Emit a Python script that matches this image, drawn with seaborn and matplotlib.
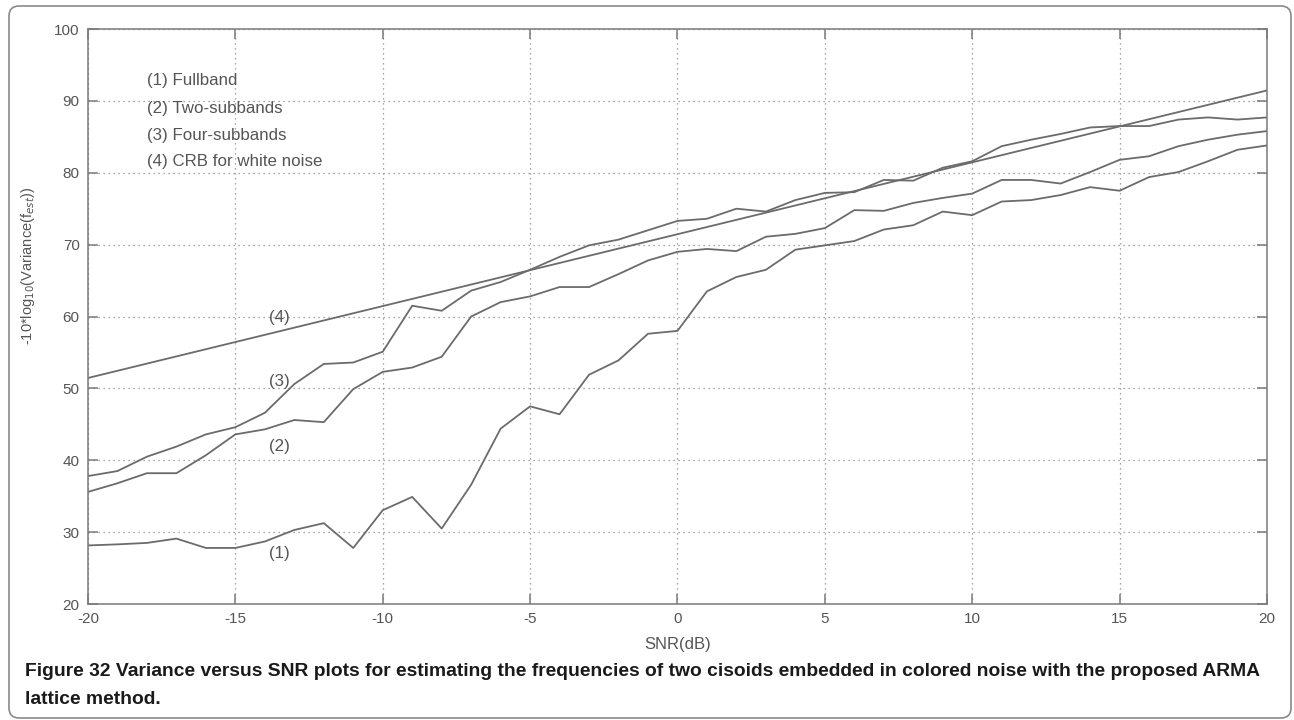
import numpy as np
import pandas as pd
import matplotlib
matplotlib.use("Agg")
import matplotlib.pyplot as plt
import seaborn as sns
from matplotlib.patches import FancyBboxPatch
from matplotlib.transforms import IdentityTransform

# SNR grid (dB)
snr = list(range(-20, 21))

# -10*log10(variance) for each estimator
fullband = [28.15, 28.3, 28.5, 29.1, 27.8, 27.8, 28.7, 30.3, 31.25, 27.8,
            33.05, 34.9, 30.5, 36.6, 44.4, 47.5, 46.4, 51.9, 53.9, 57.6,
            58.0, 63.5, 65.5, 66.5, 69.3, 69.9, 70.5, 72.1, 72.7, 74.6,
            74.1, 76.0, 76.2, 76.9, 78.0, 77.5, 79.4, 80.1, 81.6, 83.2, 83.8]
two_subbands = [35.6, 36.8, 38.2, 38.2, 40.7, 43.6, 44.3, 45.6, 45.3, 49.9,
                52.3, 52.9, 54.4, 60.0, 62.0, 62.8, 64.1, 64.1, 65.9, 67.8,
                69.0, 69.4, 69.1, 71.1, 71.5, 72.3, 74.8, 74.7, 75.8, 76.5,
                77.1, 79.0, 79.0, 78.5, 80.1, 81.8, 82.3, 83.7, 84.6, 85.3, 85.8]
four_subbands = [37.8, 38.5, 40.5, 41.9, 43.6, 44.6, 46.6, 50.6, 53.4, 53.6,
                 55.1, 61.5, 60.8, 63.6, 64.8, 66.5, 68.3, 69.9, 70.7, 72.0,
                 73.3, 73.6, 75.0, 74.6, 76.2, 77.2, 77.3, 79.0, 78.9, 80.7,
                 81.6, 83.7, 84.6, 85.4, 86.3, 86.5, 86.5, 87.4, 87.7, 87.4, 87.7]
# Cramer-Rao bound for white noise (straight line in dB)
crb_snr = [-20, 20]
crb = [51.45, 91.45]

legend_lines = ["(1) Fullband", "(2) Two-subbands", "(3) Four-subbands",
                "(4) CRB for white noise"]
curve_tags = ["(1)", "(2)", "(3)", "(4)"]
x_ticks = [-20, -15, -10, -5, 0, 5, 10, 15, 20]
y_ticks = [20, 30, 40, 50, 60, 70, 80, 90, 100]

df = pd.concat([
    pd.DataFrame({"snr": snr, "val": fullband, "curve": "1"}),
    pd.DataFrame({"snr": snr, "val": two_subbands, "curve": "2"}),
    pd.DataFrame({"snr": snr, "val": four_subbands, "curve": "3"}),
    pd.DataFrame({"snr": crb_snr, "val": crb, "curve": "4"}),
], ignore_index=True)

sns.set_theme(style="white")
plt.rcParams["font.family"] = ["Liberation Sans", "DejaVu Sans"]

LINE = "#6b6b6b"
TEXT = "#555555"
FRAME = "#7a7a7a"

fig = plt.figure(figsize=(12.94, 7.2), dpi=100)
ax = fig.add_axes([0.068, 0.1611, 0.9111, 0.7986])

sns.lineplot(data=df, x="snr", y="val", hue="curve",
             palette=[LINE] * 4, linewidth=1.3, legend=False, ax=ax,
             estimator=None, sort=False)

ax.set_xlim(-20, 20)
ax.set_ylim(20, 100)
ax.set_xticks(x_ticks)
ax.set_yticks(y_ticks)
ax.set_xticklabels([str(t) for t in x_ticks])
ax.set_yticklabels([str(t) for t in y_ticks])
ax.grid(True, linestyle=(0, (1, 3)), color="#8a8a8a", linewidth=0.9)
for s in ax.spines.values():
    s.set_color(FRAME)
    s.set_linewidth(1.1)
ax.tick_params(direction="in", length=7, width=1.1, color=FRAME,
               labelcolor=TEXT, labelsize=11, top=True, right=True,
               bottom=True, left=True, pad=6)

ax.set_xlabel("SNR(dB)", fontsize=12, color=TEXT)
ax.xaxis.set_label_coords(0.5, -0.057)
ax.set_ylabel(r"-10*log$_{10}$(Variance(f$_{est}$))", fontsize=10.5, color=TEXT)
ax.yaxis.set_label_coords(-0.043, 0.588)

# descriptive key in the upper-left corner
for txt, yv in zip(legend_lines, [92.8, 88.9, 85.2, 81.6]):
    ax.text(-18.0, yv, txt, fontsize=12.2, color=TEXT, ha="left", va="center")

# tags next to each curve
for tag, yv in zip(curve_tags, [27.0, 41.9, 50.9, 59.9]):
    ax.text(-13.5, yv, tag, fontsize=12.2, color=TEXT, ha="center", va="center")

# rounded frame around figure and caption
frame = FancyBboxPatch((9, 2), 1282, 712, boxstyle="round,pad=0,rounding_size=10",
                       transform=IdentityTransform(), fill=False,
                       edgecolor="#8a8a8a", linewidth=1.2)
fig.patches.append(frame)

cap1 = ("Figure 32 Variance versus SNR plots for estimating the frequencies of two "
        "cisoids embedded in colored noise with the proposed ARMA")
cap2 = "lattice method."
cap_font = ["Liberation Sans Narrow", "Liberation Sans", "DejaVu Sans"]
t1 = fig.text(25 / 1294, 1 - 672 / 720, cap1, fontsize=14, fontweight="bold",
              family=cap_font, color="#1a1a1a", ha="left", va="center")
t2 = fig.text(25 / 1294, 1 - 700 / 720, cap2, fontsize=14, fontweight="bold",
              family=cap_font, color="#1a1a1a", ha="left", va="center")

# scale caption so the first line spans the text block width
fig.canvas.draw()
w = t1.get_window_extent().width
size = 14 * 1238 / w
t1.set_fontsize(size)
t2.set_fontsize(size)

fig.savefig("out.png", dpi=100)
